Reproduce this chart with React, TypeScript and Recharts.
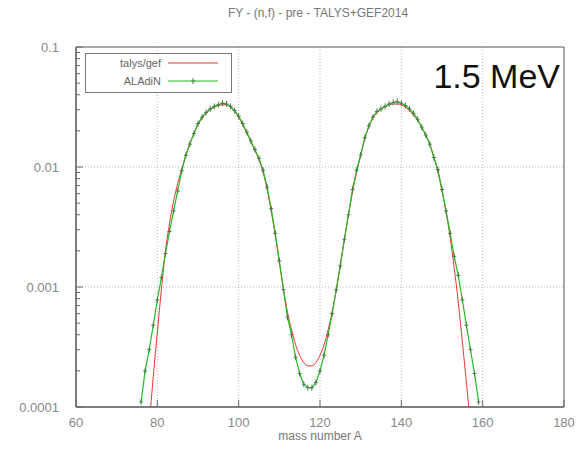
import React from 'react';
import { LineChart, Line, XAxis, YAxis, CartesianGrid, Legend, ReferenceArea } from 'recharts';

const massNumbers = [
  76, 77, 78, 79, 80, 81, 82, 83, 84, 85, 86, 87, 88, 89, 90, 91, 92, 93, 94, 95, 96, 97, 98, 99,
  100, 101, 102, 103, 104, 105, 106, 107, 108, 109, 110, 111, 112, 113, 114, 115, 116, 117, 118, 119,
  120, 121, 122, 123, 124, 125, 126, 127, 128, 129, 130, 131, 132, 133, 134, 135, 136, 137, 138, 139,
  140, 141, 142, 143, 144, 145, 146, 147, 148, 149, 150, 151, 152, 153, 154, 155, 156, 157, 158, 159,
];
const aladinYield = [
  1.1e-4, 2.0e-4, 3.0e-4, 4.8e-4, 7.8e-4, 1.2e-3, 1.9e-3, 2.9e-3, 4.3e-3, 6.3e-3, 9.3e-3, 1.25e-2,
  1.55e-2, 1.9e-2, 2.3e-2, 2.6e-2, 2.85e-2, 3.05e-2, 3.2e-2, 3.3e-2, 3.4e-2, 3.35e-2, 3.2e-2, 2.95e-2,
  2.65e-2, 2.3e-2, 1.95e-2, 1.65e-2, 1.4e-2, 1.18e-2, 9.4e-3, 6.8e-3, 4.5e-3, 2.8e-3, 1.65e-3, 9.5e-4,
  5.6e-4, 4.0e-4, 2.6e-4, 1.9e-4, 1.55e-4, 1.45e-4, 1.45e-4, 1.6e-4, 2.0e-4, 2.7e-4, 4.0e-4, 6.0e-4,
  9.5e-4, 1.5e-3, 2.5e-3, 4.0e-3, 6.5e-3, 9.4e-3, 1.26e-2, 1.75e-2, 2.2e-2, 2.6e-2, 2.9e-2, 3.05e-2,
  3.2e-2, 3.35e-2, 3.45e-2, 3.5e-2, 3.4e-2, 3.25e-2, 3.05e-2, 2.8e-2, 2.5e-2, 2.15e-2, 1.85e-2, 1.55e-2,
  1.2e-2, 9.5e-3, 6.5e-3, 4.3e-3, 2.8e-3, 1.8e-3, 1.25e-3, 7.8e-4, 4.8e-4, 3.0e-4, 1.9e-4, 1.1e-4,
];
const talysMass = [
  78, 79, 80, 81, 82, 83, 84, 85, 86, 87, 88, 89, 90, 91, 92, 93, 94, 95, 96, 97, 98, 99, 100, 101,
  102, 103, 104, 105, 106, 107, 108, 109, 110, 111, 112, 113, 114, 115, 116, 117, 118, 119, 120, 121,
  122, 123, 124, 125, 126, 127, 128, 129, 130, 131, 132, 133, 134, 135, 136, 137, 138, 139, 140, 141,
  142, 143, 144, 145, 146, 147, 148, 149, 150, 151, 152, 153, 154, 155, 156, 157,
];
const talysYield = [
  7e-5, 1.8e-4, 4.2e-4, 9.5e-4, 2.0e-3, 3.4e-3, 5.2e-3, 7.3e-3, 9.6e-3, 1.25e-2, 1.57e-2, 1.9e-2,
  2.25e-2, 2.55e-2, 2.8e-2, 3.0e-2, 3.15e-2, 3.25e-2, 3.3e-2, 3.3e-2, 3.15e-2, 2.9e-2, 2.6e-2, 2.25e-2,
  1.92e-2, 1.62e-2, 1.37e-2, 1.15e-2, 9.0e-3, 6.5e-3, 4.3e-3, 2.7e-3, 1.6e-3, 9.8e-4, 6.2e-4, 4.4e-4,
  3.3e-4, 2.7e-4, 2.35e-4, 2.2e-4, 2.2e-4, 2.35e-4, 2.7e-4, 3.3e-4, 4.4e-4, 6.2e-4, 9.5e-4, 1.55e-3,
  2.5e-3, 4.0e-3, 6.2e-3, 9.0e-3, 1.25e-2, 1.7e-2, 2.15e-2, 2.55e-2, 2.85e-2, 3.05e-2, 3.2e-2, 3.3e-2,
  3.35e-2, 3.35e-2, 3.3e-2, 3.15e-2, 2.95e-2, 2.7e-2, 2.45e-2, 2.15e-2, 1.85e-2, 1.55e-2, 1.2e-2, 9.0e-3,
  6.3e-3, 4.2e-3, 2.6e-3, 1.45e-3, 7.5e-4, 3.5e-4, 1.6e-4, 7e-5,
];

const xTicks = [60, 80, 100, 120, 140, 160, 180];
const xTickLabels = ['60', '80', '100', '120', '140', '160', '180'];
const xGridValues = [80, 100, 120, 140, 160];
const yMajorTicks = [0.0001, 0.001, 0.01, 0.1];
const yTickLabels = ['0.0001', '0.001', '0.01', '0.1'];
const yGridValues = [0.001, 0.01];
const yAllTicks = [
  0.0001, 0.0002, 0.0003, 0.0004, 0.0005, 0.0006, 0.0007, 0.0008, 0.0009,
  0.001, 0.002, 0.003, 0.004, 0.005, 0.006, 0.007, 0.008, 0.009,
  0.01, 0.02, 0.03, 0.04, 0.05, 0.06, 0.07, 0.08, 0.09, 0.1,
];
const seriesNames = ['talys/gef', 'ALAdiN'];

const aladinData = massNumbers.map((a, i) => ({ a, y: aladinYield[i] }));
const talysData = talysMass.map((a, i) => ({ a, y: talysYield[i] }));

const FONT = '"Liberation Sans", Arial, sans-serif';
const Y_TICK_MARGIN = 17;
const X_TICK_MARGIN = 10;
const MARKER = '#4a7a4a';

const YTick = (props: any) => {
  const { x, y, payload } = props;
  const v = payload.value;
  const i = yMajorTicks.findIndex((m) => Math.abs(m - v) / m < 1e-6);
  const axisX = x + Y_TICK_MARGIN;
  return (
    <g>
      <line x1={axisX} x2={axisX + (i >= 0 ? 7 : 4)} y1={y} y2={y} stroke="#666" strokeWidth={1} />
      {i >= 0 && (
        <text x={x} y={y} dy={5} textAnchor="end" fontSize={13} fill="#888" fontFamily={FONT}>
          {yTickLabels[i]}
        </text>
      )}
    </g>
  );
};

const XTick = (props: any) => {
  const { x, y, payload } = props;
  const i = xTicks.indexOf(payload.value);
  const axisY = y - X_TICK_MARGIN;
  return (
    <g>
      <line x1={x} x2={x} y1={axisY} y2={axisY - 7} stroke="#666" strokeWidth={1} />
      <text x={x} y={y} dy={10} textAnchor="middle" fontSize={13} fill="#888" fontFamily={FONT}>
        {xTickLabels[i]}
      </text>
    </g>
  );
};

const PlusDot = (props: any) => {
  const { cx, cy } = props;
  if (cx == null || cy == null || isNaN(cy)) return null;
  return (
    <g>
      <line x1={cx - 2} x2={cx + 2} y1={cy} y2={cy} stroke={MARKER} strokeWidth={1} />
      <line x1={cx} x2={cx} y1={cy - 3} y2={cy + 3} stroke={MARKER} strokeWidth={1} />
    </g>
  );
};

const LegendBox = (props: any) => {
  const payload = [...(props.payload || [])].sort(
    (p: any, q: any) => seriesNames.indexOf(p.value) - seriesNames.indexOf(q.value),
  );
  return (
    <svg width={148} height={41} style={{ display: 'block' }}>
      <rect x={0.5} y={0.5} width={146} height={39} fill="#fff" stroke="#777" strokeWidth={1} />
      {payload.map((p: any, i: number) => {
        const yy = 10 + i * 18;
        const withMarker = p.value === seriesNames[1];
        return (
          <g key={p.value}>
            <text x={76} y={yy + 4} textAnchor="end" fontSize={11} fill="#666" fontFamily={FONT}>
              {p.value}
            </text>
            <line x1={83} x2={133} y1={yy} y2={yy} stroke={p.color} strokeWidth={1.2} />
            {withMarker && (
              <>
                <line x1={108} x2={108} y1={yy - 3} y2={yy + 3} stroke={MARKER} />
                <line x1={106} x2={110} y1={yy} y2={yy} stroke={MARKER} />
              </>
            )}
          </g>
        );
      })}
    </svg>
  );
};

export default function App() {
  return (
    <div style={{ position: 'absolute', left: 0, top: 0, width: 580, height: 460, background: '#fff' }}>
      <div
        style={{
          position: 'absolute', left: 0, top: 6, width: 636, textAlign: 'center',
          fontFamily: FONT, fontSize: 12, color: '#777', whiteSpace: 'nowrap',
        }}
      >
        FY - (n,f) - pre - TALYS+GEF2014
      </div>
      <LineChart
        width={580}
        height={460}
        margin={{ top: 47, right: 16, bottom: 0, left: 0 }}
      >
        <CartesianGrid
          horizontalValues={yGridValues}
          verticalValues={xGridValues}
          stroke="#bbb"
          strokeDasharray="1 2"
        />
        <XAxis
          dataKey="a"
          type="number"
          domain={[60, 180]}
          ticks={xTicks}
          interval={0}
          tickSize={0}
          tickMargin={X_TICK_MARGIN}
          tick={<XTick />}
          axisLine={{ stroke: '#555' }}
          tickLine={false}
          height={53}
          allowDataOverflow
          label={{ value: 'mass number A', position: 'insideBottom', offset: 20, fontSize: 12, fill: '#777', fontFamily: FONT }}
        />
        <YAxis
          scale="log"
          type="number"
          domain={[0.0001, 0.1]}
          ticks={yAllTicks}
          interval={0}
          tickSize={0}
          tickMargin={Y_TICK_MARGIN}
          tick={<YTick />}
          axisLine={{ stroke: '#555' }}
          tickLine={false}
          width={76}
          allowDataOverflow
        />
        <ReferenceArea x1={60} x2={180} y1={0.0001} y2={0.1} fill="none" stroke="#555" strokeWidth={1} />
        <Legend
          layout="vertical"
          align="center"
          verticalAlign="middle"
          content={<LegendBox />}
          wrapperStyle={{ position: 'absolute', left: 85, top: 53, width: 148, height: 41 }}
        />
        <Line
          data={talysData}
          dataKey="y"
          name={seriesNames[0]}
          stroke="#ee3333"
          strokeWidth={1}
          dot={false}
          type="monotone"
          isAnimationActive={false}
        />
        <Line
          data={aladinData}
          dataKey="y"
          name={seriesNames[1]}
          stroke="#22bb22"
          strokeWidth={1.2}
          dot={<PlusDot />}
          type="linear"
          isAnimationActive={false}
        />
      </LineChart>
      <div
        style={{
          position: 'absolute', right: 20, top: 56, fontFamily: FONT, fontSize: 34,
          color: '#111', whiteSpace: 'nowrap', lineHeight: '40px',
        }}
      >
        1.5 MeV
      </div>
    </div>
  );
}
